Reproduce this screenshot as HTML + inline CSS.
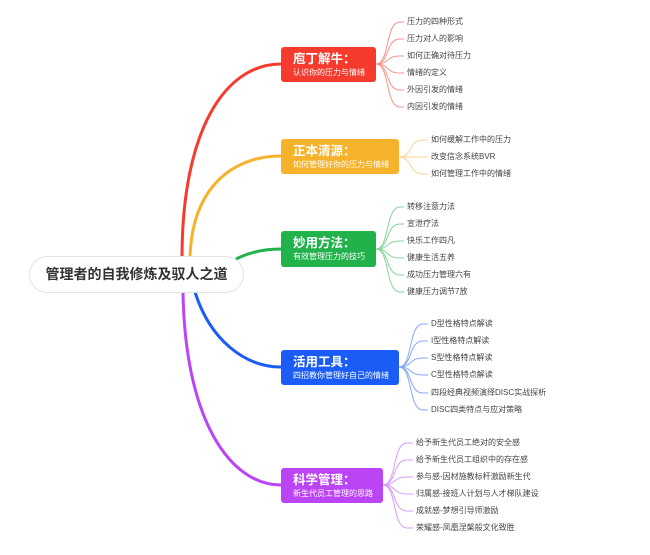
<!DOCTYPE html>
<html><head><meta charset="utf-8"><style>
body{margin:0;width:650px;height:555px;background:#fff;overflow:hidden;position:relative;font-family:"Liberation Sans","Noto Sans CJK SC",sans-serif}
.c{position:absolute;left:29px;top:256px;width:213px;height:35px;border:1px solid #e3e3e3;border-radius:19px;background:#fff;font-weight:bold;font-size:14px;color:#333;line-height:35px;text-align:center}
.b{position:absolute;border-radius:3px;color:#fff;padding-left:12px;box-sizing:border-box}
.b .t{font-size:12.5px;font-weight:bold;margin-top:4px;line-height:16px}
.b .s{font-size:8px;line-height:11px}
.l{position:absolute;font-size:8px;color:#444;line-height:10px;white-space:nowrap}
svg{position:absolute;left:0;top:0}
</style></head><body>
<svg width="650" height="555" fill="none">
<path d="M182,258 C182,130 225,64 281,64" stroke="#f53b2e" stroke-width="3"/>
<path d="M190,258 C192,185 235,156 281,156" stroke="#f5b22a" stroke-width="3"/>
<path d="M236,259 C250,252 265,249 281,249" stroke="#22b24c" stroke-width="3"/>
<path d="M195,292 C210,340 245,367 281,367" stroke="#1a5cf5" stroke-width="3"/>
<path d="M183,292 C185,420 230,485 281,485" stroke="#bb44f5" stroke-width="3"/>
<g stroke="#f8948c" stroke-width="1"><path d="M376,64 C390,64 385,22 400,22 H404"/><path d="M376,64 C390,64 385,39 400,39 H404"/><path d="M376,64 C390,64 385,56 400,56 H404"/><path d="M376,64 C390,64 385,73 400,73 H404"/><path d="M376,64 C390,64 385,90 400,90 H404"/><path d="M376,64 C390,64 385,107 400,107 H404"/></g>
<g stroke="#f9d592" stroke-width="1"><path d="M399,157 C413,157 408,140 423,140 H428"/><path d="M399,157 H428"/><path d="M399,157 C413,157 408,174 423,174 H428"/></g>
<g stroke="#86d49b" stroke-width="1"><path d="M376,249 C390,249 385,207 400,207 H404"/><path d="M376,249 C390,249 385,224 400,224 H404"/><path d="M376,249 C390,249 385,241 400,241 H404"/><path d="M376,249 C390,249 385,258 400,258 H404"/><path d="M376,249 C390,249 385,275 400,275 H404"/><path d="M376,249 C390,249 385,292 400,292 H404"/></g>
<g stroke="#86a8f8" stroke-width="1"><path d="M399,367 C413,367 408,324 423,324 H428"/><path d="M399,367 C413,367 408,341 423,341 H428"/><path d="M399,367 C413,367 408,358 423,358 H428"/><path d="M399,367 C413,367 408,375 423,375 H428"/><path d="M399,367 C413,367 408,393 423,393 H428"/><path d="M399,367 C413,367 408,410 423,410 H428"/></g>
<g stroke="#d99af8" stroke-width="1"><path d="M383,485 C397,485 392,443 407,443 H413"/><path d="M383,485 C397,485 392,460 407,460 H413"/><path d="M383,485 C397,485 392,477 407,477 H413"/><path d="M383,485 C397,485 392,494 407,494 H413"/><path d="M383,485 C397,485 392,511 407,511 H413"/><path d="M383,485 C397,485 392,528 407,528 H413"/></g>
</svg>
<div class="c">管理者的自我修炼及驭人之道</div>
<div class="b" style="left:281px;top:47px;width:95px;height:35px;background:#f53b2e"><div class="t">庖丁解牛：</div><div class="s">认识你的压力与情绪</div></div>
<div class="b" style="left:281px;top:139px;width:118px;height:35px;background:#f5b22a"><div class="t">正本清源：</div><div class="s">如何管理好你的压力与情绪</div></div>
<div class="b" style="left:281px;top:231px;width:95px;height:36px;background:#22b24c"><div class="t">妙用方法：</div><div class="s">有效管理压力的技巧</div></div>
<div class="b" style="left:281px;top:350px;width:118px;height:35px;background:#1a5cf5"><div class="t">活用工具：</div><div class="s">四招教你管理好自己的情绪</div></div>
<div class="b" style="left:281px;top:468px;width:102px;height:35px;background:#bb44f5"><div class="t">科学管理：</div><div class="s">新生代员工管理的思路</div></div>

<div class="l" style="left:407px;top:17px">压力的四种形式</div>
<div class="l" style="left:407px;top:34px">压力对人的影响</div>
<div class="l" style="left:407px;top:51px">如何正确对待压力</div>
<div class="l" style="left:407px;top:68px">情绪的定义</div>
<div class="l" style="left:407px;top:85px">外因引发的情绪</div>
<div class="l" style="left:407px;top:102px">内因引发的情绪</div>

<div class="l" style="left:431px;top:135px">如何缓解工作中的压力</div>
<div class="l" style="left:431px;top:152px">改变信念系统BVR</div>
<div class="l" style="left:431px;top:169px">如何管理工作中的情绪</div>

<div class="l" style="left:407px;top:202px">转移注意力法</div>
<div class="l" style="left:407px;top:219px">宣泄疗法</div>
<div class="l" style="left:407px;top:236px">快乐工作四凡</div>
<div class="l" style="left:407px;top:253px">健康生活五养</div>
<div class="l" style="left:407px;top:270px">成功压力管理六有</div>
<div class="l" style="left:407px;top:287px">健康压力调节7放</div>

<div class="l" style="left:431px;top:319px">D型性格特点解读</div>
<div class="l" style="left:431px;top:336px">I型性格特点解读</div>
<div class="l" style="left:431px;top:353px">S型性格特点解读</div>
<div class="l" style="left:431px;top:370px">C型性格特点解读</div>
<div class="l" style="left:431px;top:388px">四段经典视频演绎DISC实战探析</div>
<div class="l" style="left:431px;top:405px">DISC四类特点与应对策略</div>

<div class="l" style="left:416px;top:438px">给予新生代员工绝对的安全感</div>
<div class="l" style="left:416px;top:455px">给予新生代员工组织中的存在感</div>
<div class="l" style="left:416px;top:472px">参与感-因材施教标杆激励新生代</div>
<div class="l" style="left:416px;top:489px">归属感-接班人计划与人才梯队建设</div>
<div class="l" style="left:416px;top:506px">成就感-梦想引导师激励</div>
<div class="l" style="left:416px;top:523px">荣耀感-凤凰涅槃般文化致胜</div>
</body></html>
